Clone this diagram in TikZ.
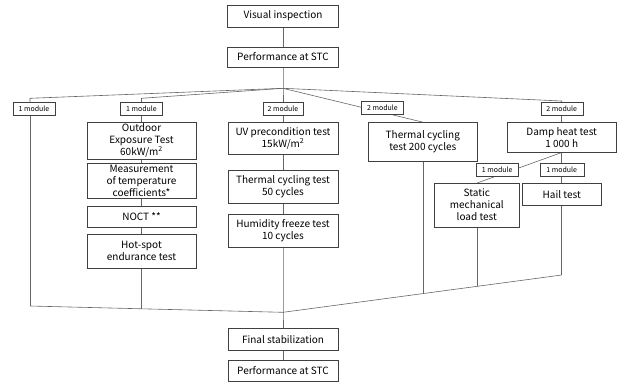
\documentclass[tikz,border=0pt]{standalone}
\usepackage{fontspec}
\setmainfont{Noto Sans CJK KR}
\usetikzlibrary{backgrounds}

\begin{document}
\begin{tikzpicture}[x=1pt,y=-1pt,
  box/.style={draw=black!75,fill=white,align=center,inner sep=0pt,font=\fontsize{10}{12}\selectfont},
  modbox/.style={draw=black!75,fill=white,inner sep=0pt,minimum width=42,minimum height=13,font=\fontsize{7}{8}\selectfont},
  link/.style={draw=black!60,line width=0.6pt}]
 \useasboundingbox (0,0) rectangle (617,384);

 \node[box,minimum width=111,minimum height=22] (vis) at (283,16) {Visual inspection};
 \node[box,minimum width=111,minimum height=20] (perfa) at (283,56.7) {Performance at STC};

 \node[modbox] (mod1) at (34,109) {1 module};
 \node[modbox] (mod2) at (141.5,109) {1 module};
 \node[modbox,minimum width=40] (mod3) at (283,108.5) {2 module};
 \node[modbox] (mod4) at (382.5,107.3) {2 module};
 \node[modbox] (mod5) at (561.7,109) {2 module};
 \node[modbox] (mod6) at (497.2,170) {1 module};
 \node[modbox,minimum width=44] (mod7) at (561.7,169.7) {1 module};

 \node[box,minimum width=109,minimum height=37] (outdoor) at (141.5,140.5) {Outdoor\\Exposure Test\\60kW/m\textsuperscript{2}};
 \node[box,minimum width=109,minimum height=35] (meas) at (141.5,180.7) {Measurement\\of temperature\\coefficients*};
 \node[box,minimum width=109,minimum height=21] (noct) at (141.5,216.2) {NOCT **};
 \node[box,minimum width=109,minimum height=34] (hot) at (141.5,251.2) {Hot-spot\\endurance test};

 \node[box,minimum width=110,minimum height=32] (uv) at (283,138.2) {UV precondition test\\15kW/m\textsuperscript{2}};
 \node[box,minimum width=110,minimum height=33] (tc50) at (283,186.7) {Thermal cycling test\\50 cycles};
 \node[box,minimum width=110,minimum height=33] (hf) at (283,230.8) {Humidity freeze test\\10 cycles};

 \node[box,minimum width=109,minimum height=38.7] (tc200) at (422.8,141.7) {Thermal cycling\\test 200 cycles};
 \node[box,minimum width=108.7,minimum height=30] (damp) at (561.7,137.3) {Damp heat test\\1 000 h};
 \node[box,minimum width=85,minimum height=43.4] (static) at (476.8,205) {Static\\mechanical\\load test};
 \node[box,minimum width=78.3,minimum height=21.7] (hail) at (561.7,194.2) {Hail test};

 \node[box,minimum width=110,minimum height=21.7] (fin) at (283,339.2) {Final stabilization};
 \node[box,minimum width=110,minimum height=21] (perfb) at (283,370.5) {Performance at STC};

 \coordinate (hub) at (283,88.3);
 \coordinate (c1) at (30,98.3);
 \coordinate (c2) at (141.5,98.3);
 \coordinate (c5) at (561.7,101);
 \coordinate (bl) at (30,306);
 \coordinate (bh) at (283,312.3);
 \coordinate (br) at (561.7,275);
 \coordinate (jh) at (141.5,308.8);
 \coordinate (jt) at (422.8,293.6);
 \coordinate (js) at (476.8,286.4);

 \begin{scope}[on background layer]
 \draw[link] (vis) -- (perfa);
 \draw[link] (perfa) -- (hub) -- (mod3);
 \draw[link] (hub) -- (c1) -- (mod1.north -| c1);
 \draw[link] (mod1.south -| c1) -- (bl);
 \draw[link] (hub) -- (c2) -- (mod2);
 \draw[link] (mod2) -- (outdoor) -- (meas) -- (noct) -- (hot) -- (jh);
 \draw[link] (mod3) -- (uv) -- (tc50) -- (hf) -- (bh) -- (fin) -- (perfb);
 \draw[link] (hub) -- (tc200.north);
 \draw[link] (tc200) -- (jt);
 \draw[link] (hub) -- (c5) -- (mod5);
 \draw[link] (mod5) -- (damp) -- (mod7) -- (hail) -- (br);
 \draw[link] (damp.south) -- (static.north);
 \draw[link] (static) -- (js);
 \draw[link] (bl) -- (bh) -- (br);
 \end{scope}
\end{tikzpicture}
\end{document}
